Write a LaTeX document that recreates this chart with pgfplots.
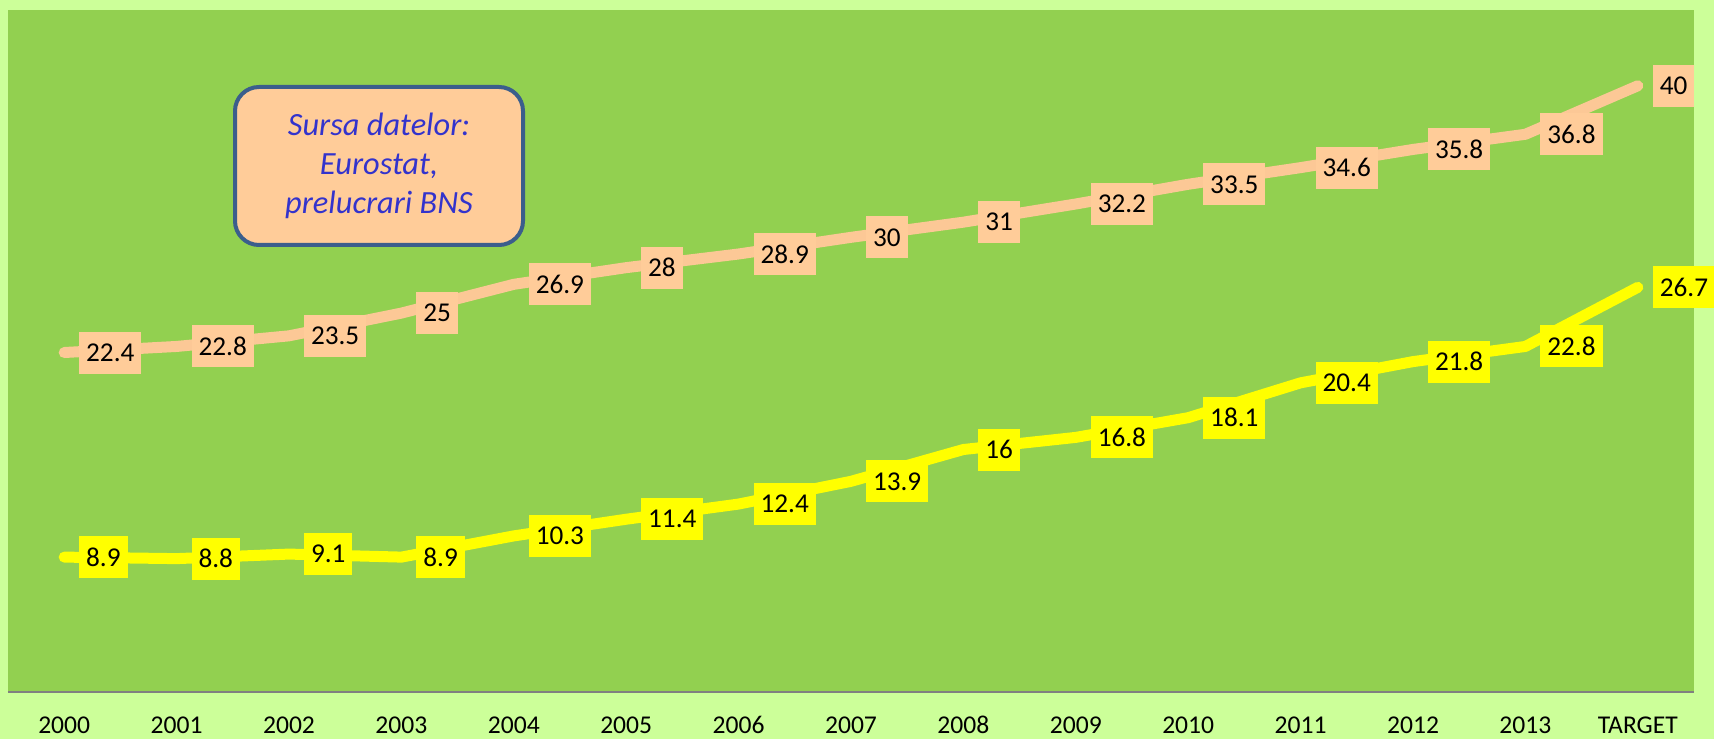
\documentclass[border=0pt]{standalone}
\usepackage{pgfplots}
\pgfplotsset{compat=1.18}
\usepackage{fontspec}
\setmainfont{Carlito}
\definecolor{outerbg}{HTML}{CCFF99}
\definecolor{plotbg}{HTML}{92D050}
\definecolor{peach}{HTML}{FFCC99}
\definecolor{peachline}{HTML}{FCC896}
\definecolor{yel}{HTML}{FFFF00}
\definecolor{boxborder}{HTML}{3B5E8C}
\definecolor{boxtext}{HTML}{3333CC}
\begin{document}
\begin{tikzpicture}
\fill[outerbg] (-4pt,-23.5pt) rectangle (853pt,346pt);
\fill[plotbg] (0,0) rectangle (843pt,341pt);
\begin{axis}[at={(0,0)}, anchor=south west, scale only axis,
  width=843pt, height=341pt,
  xmin=-0.5, xmax=14.5, ymin=0, ymax=45,
  axis x line=bottom, axis y line=none,
  x axis line style={draw=gray, line width=1pt, -},
  xtick={0,...,14},
  xticklabels={2000,2001,2002,2003,2004,2005,2006,2007,2008,2009,2010,2011,2012,2013,TARGET},
  major tick length=0pt, ytick=\empty,
  xticklabel style={anchor=base, yshift=-21pt, inner sep=0pt, font=\fontsize{12.8}{15}\selectfont},
  clip=false,
  nodes near coords, point meta=explicit symbolic,
  every node near coord/.append style={anchor=west, xshift=7.5pt, text=black, inner xsep=3.5pt, inner ysep=0pt, minimum height=21pt, outer sep=0pt, font=\fontsize{13.6}{15}\selectfont},
]
\addplot[peachline, line width=5.5pt, line cap=round, line join=round, every node near coord/.append style={fill=peach}] table[meta=l] {
x y l
0 22.4 22.4
1 22.8 22.8
2 23.5 23.5
3 25 25
4 26.9 26.9
5 28 28
6 28.9 28.9
7 30 30
8 31 31
9 32.2 32.2
10 33.5 33.5
11 34.6 34.6
12 35.8 35.8
13 36.8 36.8
14 40 40
};
\addplot[yel, line width=5.5pt, line cap=round, line join=round, every node near coord/.append style={fill=yel}] table[meta=l] {
x y l
0 8.9 8.9
1 8.8 8.8
2 9.1 9.1
3 8.9 8.9
4 10.3 10.3
5 11.4 11.4
6 12.4 12.4
7 13.9 13.9
8 16 16
9 16.8 16.8
10 18.1 18.1
11 20.4 20.4
12 21.8 21.8
13 22.8 22.8
14 26.7 26.7
};
\end{axis}
\node[draw=boxborder, line width=2pt, rounded corners=12pt, fill=peach, minimum width=144pt, minimum height=79pt, align=center, text=boxtext, font=\itshape\fontsize{16.2}{19.5}\selectfont] at (185.5pt,263pt) {Sursa datelor:\\ Eurostat,\\ prelucrari BNS};
\pgfresetboundingbox
\useasboundingbox (-4pt,-23.5pt) rectangle (853pt,346pt);
\end{tikzpicture}
\end{document}
